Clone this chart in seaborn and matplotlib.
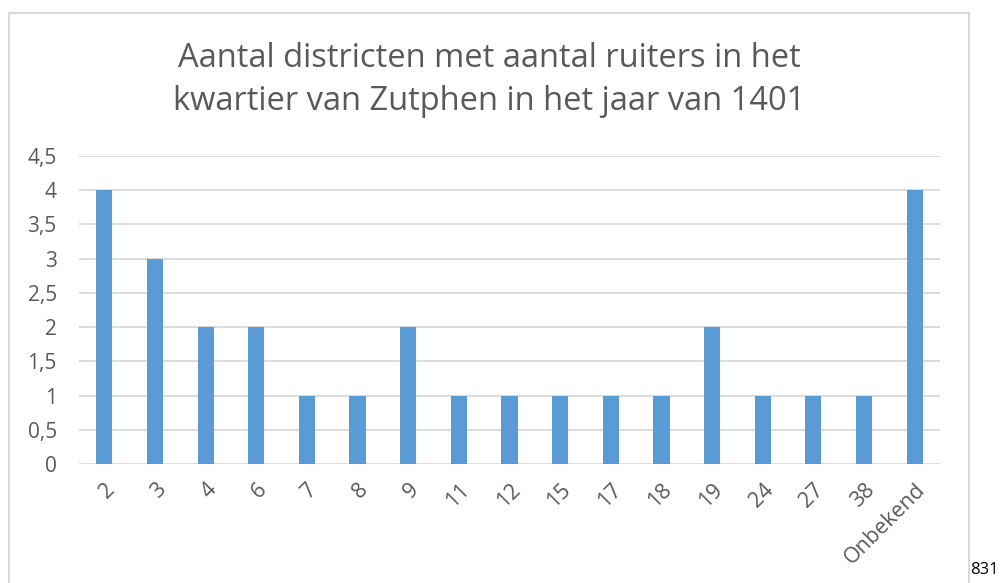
import matplotlib
matplotlib.use('Agg')
import matplotlib.pyplot as plt
import matplotlib.patches as patches
import seaborn as sns

# aantal ruiters per district (categorie) en het aantal districten
ruiters = ['2', '3', '4', '6', '7', '8', '9', '11', '12', '15', '17', '18',
           '19', '24', '27', '38', 'Onbekend']
districten = [4, 3, 2, 2, 1, 1, 2, 1, 1, 1, 1, 1, 2, 1, 1, 1, 4]
yticks = [0, 0.5, 1, 1.5, 2, 2.5, 3, 3.5, 4, 4.5]
ytick_labels = ['0', '0,5', '1', '1,5', '2', '2,5', '3', '3,5', '4', '4,5']

sns.set_style("white")
plt.rcParams['font.family'] = ['Open Sans', 'DejaVu Sans']

fig = plt.figure(figsize=(10, 5.83), dpi=100)
ax = fig.add_axes([0.079, 0.2041, 0.861, 0.5283])

sns.barplot(x=ruiters, y=districten, color='#5B9BD5', saturation=1,
            width=0.32, ax=ax, zorder=3, edgecolor='none')

ax.set_ylim(0, 4.5)
ax.set_yticks(yticks)
ax.set_yticklabels(ytick_labels)
ax.set_xlim(-0.5, len(ruiters) - 0.5)
ax.yaxis.grid(True, color='#D9D9D9', linewidth=1.3, zorder=0)
ax.set_axisbelow(True)
for s in ax.spines.values():
    s.set_visible(False)
ax.tick_params(axis='both', length=0, colors='#595959')
ax.tick_params(axis='y', pad=16, labelsize=15)
ax.tick_params(axis='x', pad=11, labelsize=15.5)
plt.setp(ax.get_xticklabels(), rotation=45, ha='right', rotation_mode='anchor')
ax.set_xlabel('')
ax.set_ylabel('')

fig.text(0.489, 1 - 80 / 583,
         'Aantal districten met aantal ruiters in het\nkwartier van Zutphen in het jaar van 1401',
         ha='center', va='center', fontsize=23.5, color='#595959', linespacing=1.42)

# kader rond de grafiek
rect = patches.Rectangle((0.009, -0.02), 0.960, 1 - 13 / 583 + 0.02,
                         transform=fig.transFigure, fill=False,
                         edgecolor='#D9D9D9', linewidth=1.5)
fig.patches.append(rect)

fig.text(0.970, 0.008, '831', fontsize=12, color='black', ha='left', va='bottom')

plt.savefig('out.png', dpi=100)
